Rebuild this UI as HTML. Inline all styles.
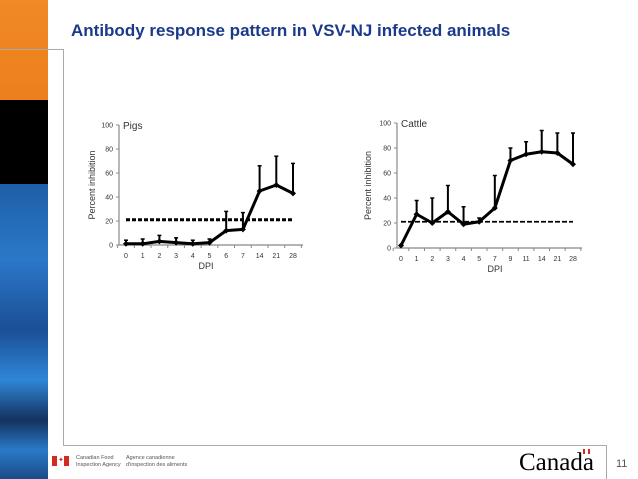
<!DOCTYPE html>
<html><head><meta charset="utf-8"><style>
body{margin:0;width:638px;height:479px;overflow:hidden;background:#fff;font-family:"Liberation Sans",sans-serif;position:relative}
.abs{position:absolute}
</style></head><body>
<div class="abs" style="left:0;top:0;width:48px;height:479px;background:linear-gradient(180deg,#f08a24 0,#ec7f1c 100px,#000 100px,#000 184px,#1e5fa8 184px,#2b78c8 260px,#1b4f96 330px,#2f86d6 380px,#14325e 420px,#2a7ac8 450px,#1a4a88 479px)"></div>
<div class="abs" style="left:0;top:49px;width:64px;height:1px;background:#aaa"></div>
<div class="abs" style="left:63px;top:49px;width:1px;height:397px;background:#aaa"></div>
<div class="abs" style="left:63px;top:445px;width:544px;height:1px;background:#aaa"></div>
<div class="abs" style="left:606px;top:445px;width:1px;height:34px;background:#aaa"></div>
<div class="abs" style="left:71px;top:21px;font-size:17px;font-weight:bold;color:#1b3a8c;white-space:nowrap">Antibody response pattern in VSV-NJ infected animals</div>
<svg class="abs" style="left:0;top:0" width="638" height="479" id="svg"></svg>
<div class="abs" style="left:52px;top:456px;width:17px;height:10px;background:linear-gradient(90deg,#d52b1e 0 5px,#fff 5px 12px,#d52b1e 12px);"><span style="position:absolute;left:6px;top:1px;font-size:7px;color:#d52b1e;line-height:8px">✦</span></div>
<div class="abs" style="left:76px;top:455px;font-size:5.5px;line-height:6.5px;color:#555">Canadian Food<br>Inspection Agency</div>
<div class="abs" style="left:126px;top:455px;font-size:5.5px;line-height:6.5px;color:#555">Agence canadienne<br>d'inspection des aliments</div>
<div class="abs" style="left:519px;top:449px;font-family:'Liberation Serif',serif;font-size:25px;color:#000">Canada</div>
<div class="abs" style="left:583px;top:449px;width:7px;height:5px;background:linear-gradient(90deg,#d52b1e 0 2px,#fff 2px 5px,#d52b1e 5px)"></div>
<div class="abs" style="left:616px;top:458px;font-size:11px;color:#555">11</div>
<script>
const pigCats=["0","1","2","3","4","5","6","7","14","21","28"];
const pigVals=[1,1,3,2,1,2,12,13,45,50,43];
const pigErr=[4,5,8,6,4,5,28,27,66,74,68];
const cattleCats=["0","1","2","3","4","5","7","9","11","14","21","28"];
const cattleVals=[2,27,20,29,19,21,32,70,75,77,76,67];
const cattleErr=[2,38,40,50,33,24,58,80,85,94,92,92];
const yTicks=[0,20,40,60,80,100];
const threshold=21;
const svg=document.getElementById('svg');
const NS='http://www.w3.org/2000/svg';
function mk(tag,attrs,parent){const e=document.createElementNS(NS,tag);for(const k in attrs)e.setAttribute(k,attrs[k]);(parent||svg).appendChild(e);return e;}
function chart(o){
 const g=mk('g',{});
 
 
 const y=v=>o.y0-(o.y0-o.y100)*v/100;
 const n=o.cats.length;
 const x=i=>o.xa+(o.xb-o.xa)*i/(n-1);
 const ya=mk('line',{x1:o.ax,y1:o.y100,x2:o.ax,y2:o.y0,stroke:'#888','stroke-width':1.2},g);
 
 
 const xa=mk('line',{x1:o.ax,y1:o.y0,x2:o.xend,y2:o.y0,stroke:'#888','stroke-width':1.2},g);
 
 
 yTicks.forEach(t=>{
  mk('line',{x1:o.ax-3,x2:o.ax,y1:y(t),y2:y(t),stroke:'#888'},g);
  const tx=mk('text',{x:o.ax-6,y:y(t)+2.5,'font-size':7,'text-anchor':'end',fill:'#333','font-family':'Liberation Sans'},g);
  tx.textContent=t;
  
  
 });
 const step=(o.xb-o.xa)/(n-1);
 for(let i=0;i<=n;i++){const xx=o.xa-step/2+i*step;mk('line',{x1:xx,x2:xx,y1:o.y0,y2:o.y0+3,stroke:'#888'},g);}
 o.cats.forEach((c,i)=>{
  const tx=mk('text',{x:x(i),y:o.y0+13,'font-size':7,'text-anchor':'middle',fill:'#333','font-family':'Liberation Sans'},g);
  tx.textContent=c;
  
  
 });
 const th=mk('line',{x1:x(0),x2:x(n-1),y1:y(threshold),y2:y(threshold),stroke:'#000','stroke-width':o.dw,'stroke-dasharray':o.dash},g);
 
 
 o.vals.forEach((v,i)=>{
  const e=mk('line',{x1:x(i),x2:x(i),y1:y(v),y2:y(o.err[i]),stroke:'#000','stroke-width':2},g);
  
  
  const c=mk('line',{x1:x(i)-2,x2:x(i)+2,y1:y(o.err[i]),y2:y(o.err[i]),stroke:'#000','stroke-width':1.5},g);
 });
 const pl=mk('polyline',{points:o.vals.map((v,i)=>x(i)+','+y(v)).join(' '),fill:'none',stroke:'#000','stroke-width':3,'stroke-linejoin':'round'},g);
 
 
 o.vals.forEach((v,i)=>{
  const p=mk('path',{d:`M${x(i)-3},${y(v)} L${x(i)},${y(v)-3} L${x(i)+3},${y(v)} L${x(i)},${y(v)+3}Z`,fill:'#000'},g);
  
  
 });
 const tl=mk('text',{x:o.ax+4,y:o.y100+4,'font-size':10,fill:'#333','font-family':'Liberation Sans'},g);
 tl.textContent=o.title;
 
 
 const yt=mk('text',{x:0,y:0,'font-size':9,'text-anchor':'middle',fill:'#333','font-family':'Liberation Sans',transform:`translate(${o.ytx},${(o.y0+o.y100)/2}) rotate(-90)`},g);
 yt.textContent='Percent inhibition';
 
 
 const xt=mk('text',{x:o.xtx,y:o.y0+24,'font-size':9,'text-anchor':'middle',fill:'#333','font-family':'Liberation Sans'},g);
 xt.textContent='DPI';
 
 
}
chart({name:'pigs',title:'Pigs',cats:pigCats,vals:pigVals,err:pigErr,ax:119,xend:303,xa:126,xb:293,y0:245,y100:125,ytx:95,xtx:206,dw:3,dash:'4,2'});
chart({name:'cattle',title:'Cattle',cats:cattleCats,vals:cattleVals,err:cattleErr,ax:397,xend:582,xa:401,xb:573,y0:248,y100:123,ytx:371,xtx:495,dw:1.8,dash:'5,2'});
</script>
</body></html>
